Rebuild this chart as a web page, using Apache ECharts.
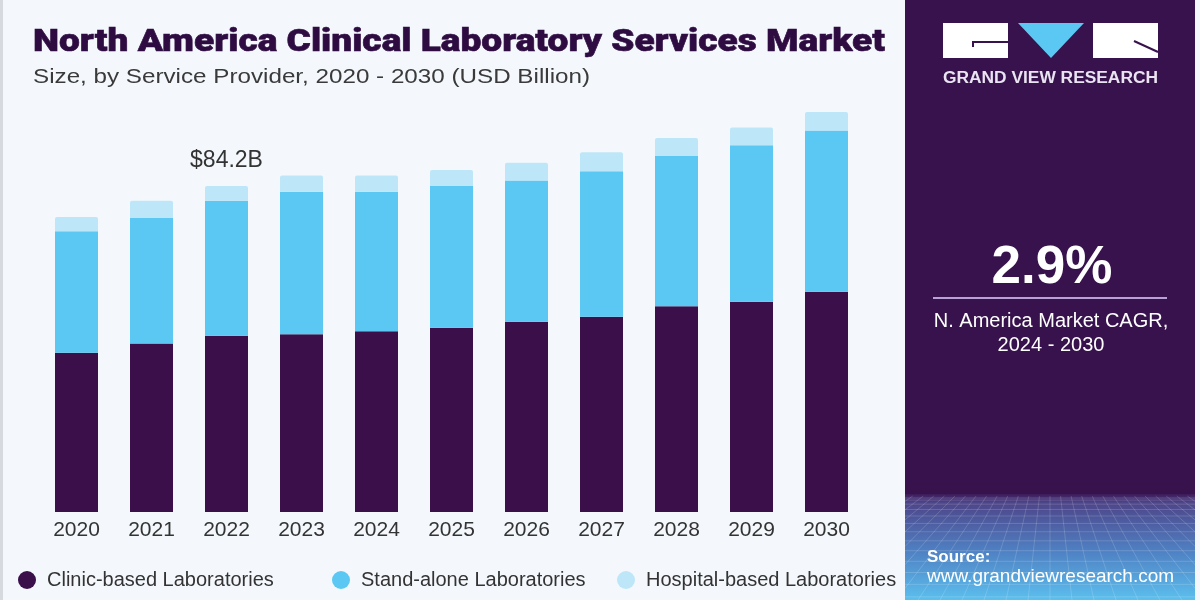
<!DOCTYPE html>
<html>
<head>
<meta charset="utf-8">
<script src="https://cdn.jsdelivr.net/npm/echarts@6/dist/echarts.min.js"></script>
<style>
  html, body { margin: 0; padding: 0; background: #f4f8fc; }
  #chart { width: 1200px; height: 600px; }
</style>
</head>
<body>
<div id="chart"></div>
<script>
const years = ['2020','2021','2022','2023','2024','2025','2026','2027','2028','2029','2030'];
const clinicBased = [41.1, 43.5, 45.5, 45.9, 46.7, 47.6, 49.1, 50.4, 53.1, 54.3, 56.9];
const standAlone = [31.4, 32.4, 34.9, 36.8, 36.0, 36.6, 36.5, 37.6, 38.8, 40.4, 41.6];
const hospitalBased = [3.7, 4.5, 3.8, 4.2, 4.2, 4.1, 4.6, 4.9, 4.7, 4.6, 4.8];
const labelledIndex = 2;
const seriesNames = ['Clinic-based Laboratories', 'Stand-alone Laboratories', 'Hospital-based Laboratories'];

const totals = years.map((_, i) => clinicBased[i] + standAlone[i] + hospitalBased[i]);

const FONT = '"Liberation Sans", Arial, sans-serif';
const COLORS = ['#3a0f4a', '#5bc8f3', '#bde6f8'];

const measureCtx = document.createElement('canvas').getContext('2d');
function fitScale(text, font, width) {
  measureCtx.font = font;
  return width / measureCtx.measureText(text).width;
}

const TITLE = 'North America Clinical Laboratory Services Market';
const SUBTITLE = 'Size, by Service Provider, 2020 - 2030 (USD Billion)';
const titleFont = '900 32px Roboto, "Liberation Sans", sans-serif';
const subFont = '20px ' + FONT;
const brandFont = 'bold 16px ' + FONT;

// decorative perspective grid in the panel footer
const panelL = 905, panelR = 1195, gTop = 496, gBot = 600;
const deco = [];
const V = [1050, 400];
function clip(xa, ya, xbb, ybb) {
  let t0 = 0, t1 = 1;
  const dx = xbb - xa;
  if (dx !== 0) {
    const ta = (panelL - xa) / dx, tb = (panelR - xa) / dx;
    t0 = Math.max(t0, Math.min(ta, tb)); t1 = Math.min(t1, Math.max(ta, tb));
  } else if (xa < panelL || xa > panelR) return null;
  if (t0 >= t1) return null;
  return [xa + dx * t0, ya + (ybb - ya) * t0, xa + dx * t1, ya + (ybb - ya) * t1];
}
for (let xb = 500; xb <= 1600; xb += 22) {
  const x1 = V[0] + (xb - V[0]) * (gTop - V[1]) / (gBot - V[1]);
  const c = clip(x1, gTop, xb, gBot);
  if (c) deco.push({ type: 'line', silent: true, shape: { x1: c[0], y1: c[1], x2: c[2], y2: c[3] },
    style: { stroke: 'rgba(255,255,255,0.16)', lineWidth: 1 } });
}
for (let k = 0; k < 14; k++) {
  const y = gTop + 2 + Math.pow(k, 1.55) * 2.1;
  if (y > gBot) break;
  deco.push({ type: 'line', silent: true, shape: { x1: panelL, y1: y, x2: panelR, y2: y },
    style: { stroke: 'rgba(255,255,255,0.16)', lineWidth: 1 } });
}

const chart = echarts.init(document.getElementById('chart'));
chart.setOption({
  backgroundColor: '#f4f8fc',
  animation: false,
  legend: seriesNames.map((n, i) => ({
    data: [n], left: [13, 327, 612][i], top: 565, icon: 'circle',
    itemWidth: 18, itemHeight: 18, itemGap: 0, selectedMode: false,
    textStyle: { fontFamily: FONT, fontSize: 20, color: '#333', padding: [0, 0, 0, 6] }
  })),
  grid: { left: 39, right: 336, top: 86, bottom: 88 },
  xAxis: {
    type: 'category', data: years,
    axisLine: { show: false }, axisTick: { show: false },
    axisLabel: { fontFamily: FONT, fontSize: 21, color: '#333', margin: 8 }
  },
  yAxis: { type: 'value', min: 0, max: 110, show: false, splitLine: { show: false } },
  series: [
    { name: seriesNames[0], type: 'bar', stack: 'total', barWidth: 43, data: clinicBased,
      itemStyle: { color: COLORS[0] } },
    { name: seriesNames[1], type: 'bar', stack: 'total', barWidth: 43, data: standAlone,
      itemStyle: { color: COLORS[1] } },
    { name: seriesNames[2], type: 'bar', stack: 'total', barWidth: 43,
      data: hospitalBased.map((v, i) => i === labelledIndex ? { value: v, label: { show: true } } : v),
      itemStyle: { color: COLORS[2], borderRadius: [2, 2, 0, 0] },
      label: { show: false, position: 'top', distance: 14, fontFamily: FONT, fontSize: 23, color: '#333',
        formatter: p => '$' + totals[p.dataIndex].toFixed(1) + 'B' } }
  ],
  graphic: [
    { type: 'rect', silent: true, shape: { x: 0, y: 0, width: 3, height: 600 }, style: { fill: '#d6d9dd' } },
    // titles
    { type: 'text', silent: true, x: 33, y: 43, scaleX: fitScale(TITLE, titleFont, 852),
      style: { text: TITLE, x: 0, y: 0, verticalAlign: 'middle', font: titleFont, fill: '#2e0c42',
        stroke: '#2e0c42', lineWidth: 0.6 } },
    { type: 'text', silent: true, x: 33, y: 77, scaleX: fitScale(SUBTITLE, subFont, 557),
      style: { text: SUBTITLE, x: 0, y: 0, verticalAlign: 'middle', font: subFont, fill: '#3a3a3a' } },
    // panel
    { type: 'rect', silent: true, shape: { x: 905, y: 0, width: 290, height: 600 }, style: { fill: '#37124c' } },
    { type: 'rect', silent: true, shape: { x: 905, y: 494, width: 290, height: 106 },
      style: { fill: new echarts.graphic.LinearGradient(0, 0, 0, 1, [
        { offset: 0, color: '#3d1a5a' }, { offset: 0.08, color: '#4d4589' },
        { offset: 0.55, color: '#4f82c4' }, { offset: 1, color: '#5cbfee' }]) } },
    ...deco,
    // logo
    { type: 'rect', silent: true, shape: { x: 943, y: 23, width: 65, height: 35 }, style: { fill: '#ffffff' } },
    { type: 'polyline', silent: true, shape: { points: [[973, 47], [973, 42], [1008, 42]] },
      style: { stroke: '#37124c', lineWidth: 2, fill: null } },
    { type: 'polygon', silent: true, shape: { points: [[1018, 23], [1084, 23], [1051, 58]] }, style: { fill: '#5bc8f3' } },
    { type: 'rect', silent: true, shape: { x: 1093, y: 23, width: 65, height: 35 }, style: { fill: '#ffffff' } },
    { type: 'line', silent: true, shape: { x1: 1134, y1: 41, x2: 1158, y2: 52 },
      style: { stroke: '#37124c', lineWidth: 2 } },
    { type: 'text', silent: true, x: 943, y: 79, scaleX: fitScale('GRAND VIEW RESEARCH', brandFont, 215),
      style: { text: 'GRAND VIEW RESEARCH', x: 0, y: 0, verticalAlign: 'middle', fill: '#eae3f2', font: brandFont } },
    // CAGR
    { type: 'text', silent: true, style: { text: '2.9%', x: 1052, y: 268, align: 'center', verticalAlign: 'middle',
      fill: '#ffffff', font: 'bold 53px ' + FONT } },
    { type: 'line', silent: true, shape: { x1: 933, y1: 298, x2: 1167, y2: 298 }, style: { stroke: '#b9a1d8', lineWidth: 2 } },
    { type: 'text', silent: true, style: { text: 'N. America Market CAGR,', x: 1051, y: 321, align: 'center', verticalAlign: 'middle',
      fill: '#ffffff', font: '20px ' + FONT } },
    { type: 'text', silent: true, style: { text: '2024 - 2030', x: 1051, y: 345, align: 'center', verticalAlign: 'middle',
      fill: '#ffffff', font: '20px ' + FONT } },
    // source
    { type: 'text', silent: true, style: { text: 'Source:', x: 927, y: 557, verticalAlign: 'middle',
      fill: '#ffffff', font: 'bold 17px ' + FONT } },
    { type: 'text', silent: true, style: { text: 'www.grandviewresearch.com', x: 927, y: 577, verticalAlign: 'middle',
      fill: '#ffffff', font: '19px ' + FONT } }
  ]
});
</script>
</body>
</html>
